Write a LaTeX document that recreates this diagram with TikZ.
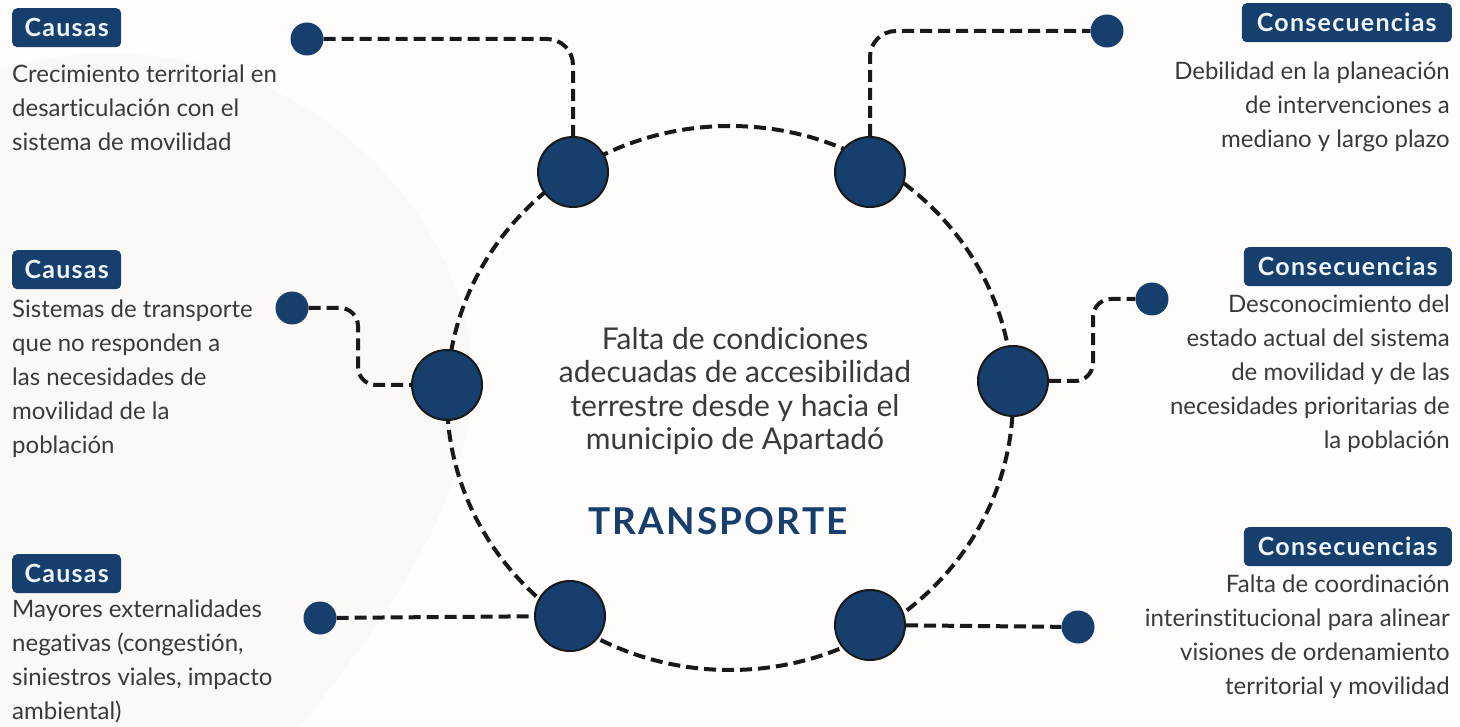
\documentclass[tikz,border=0pt]{standalone}
\usepackage{fontspec}
\setmainfont{Lato}[Ligatures=NoCommon]
\newfontfamily\badgefont{Lato}[Ligatures=NoCommon, LetterSpace=5]
\newfontfamily\titlefont{Lato}[LetterSpace=6]
\definecolor{navy}{HTML}{173F6E}
\definecolor{bgc}{HTML}{FEFDFC}
\definecolor{beige}{HTML}{FBF9F5}
\definecolor{badgetext}{HTML}{EEF5FC}
\definecolor{txt}{HTML}{3A3A3A}
\begin{document}
\begin{tikzpicture}[x=1pt,y=-1pt,
  bigdot/.style={circle, draw=black!90, line width=2pt, fill=navy, minimum size=70pt, inner sep=0pt},
  smalldot/.style={circle, fill=navy, minimum size=33pt, inner sep=0pt},
  link/.style={line width=4pt, dash pattern=on 12pt off 6pt, draw=black!90},
  badge/.style={fill=navy, rounded corners=5pt, text=badgetext, font=\badgefont\bfseries\fontsize{25}{28}\selectfont, inner sep=0pt, minimum height=39pt},
  bodyl/.style={font=\fontsize{24}{34}\selectfont, text=txt, align=left, anchor=north west, inner sep=0pt},
  bodyr/.style={font=\fontsize{24}{34}\selectfont, text=txt, align=right, anchor=north east, inner sep=0pt},
  centertext/.style={font=\fontsize{30}{33.5}\selectfont, text=txt, align=center, anchor=north, inner sep=0pt},
  title/.style={font=\titlefont\bfseries\fontsize{37}{40}\selectfont, text=navy, inner sep=0pt}
]
\useasboundingbox (0,0) rectangle (1460,727);
\fill[bgc] (0,0) rectangle (1460,727);
\fill[beige] (0,70) .. controls (200,10) and (400,120) .. (460,300) .. controls (510,450) and (400,600) .. (300,727) -- (0,727) -- cycle;

% main dashed ring
\draw[link] (730,398) ellipse [x radius=283, y radius=272];

% big dots
\node[bigdot] (n1) at (573,172) {};
\node[bigdot] (n2) at (870,172) {};
\node[bigdot] (n3) at (447,385) {};
\node[bigdot] (n4) at (1013,381) {};
\node[bigdot] (n5) at (570,616) {};
\node[bigdot] (n6) at (870,625) {};

% small dots
\node[smalldot] (s1) at (307,39) {};
\node[smalldot] (s2) at (1107,31) {};
\node[smalldot] (s3) at (292,308) {};
\node[smalldot] (s4) at (1152,299) {};
\node[smalldot] (s5) at (320,618) {};
\node[smalldot] (s6) at (1078,627) {};

% connectors
\draw[link, rounded corners=26pt] (s1) -- (n1 |- s1) -- (n1);
\draw[link, rounded corners=26pt] (n2) -- (n2 |- s2) -- (s2);
\draw[link, rounded corners=18pt] (s3) -- (358,308) -- (358,385) -- (n3);
\draw[link, rounded corners=18pt] (n4) -- (1093,381) -- (1093,299) -- (s4);
\draw[link] (s5) -- (n5);
\draw[link] (n6) -- (s6);

% badges
\node[badge, anchor=north west, minimum width=109pt] (b1) at (12,8) {Causas};
\node[badge, anchor=north west, minimum width=109pt] (b2) at (12,250) {Causas};
\node[badge, anchor=north west, minimum width=109pt] (b3) at (12,554) {Causas};
\node[badge, anchor=north east, minimum width=210pt] (b4) at (1452,3) {Consecuencias};
\node[badge, anchor=north east, minimum width=208pt] (b5) at (1452,247) {Consecuencias};
\node[badge, anchor=north east, minimum width=208pt] (b6) at (1452,527) {Consecuencias};

% body texts
\node[bodyl] (t1) at (12,65) {Crecimiento territorial en\\desarticulación con el\\sistema de movilidad};
\node[bodyl] (t2) at (12,300) {Sistemas de transporte\\que no responden a\\las necesidades de\\movilidad de la\\población};
\node[bodyl] (t3) at (12,600) {Mayores externalidades\\negativas (congestión,\\siniestros viales, impacto\\ambiental)};
\node[bodyr] (t4) at (1450,62) {Debilidad en la planeación\\de intervenciones a\\mediano y largo plazo};
\node[bodyr] (t5) at (1450,295) {Desconocimiento del\\estado actual del sistema\\de movilidad y de las\\necesidades prioritarias de\\la población};
\node[bodyr] (t6) at (1450,575) {Falta de coordinación\\interinstitucional para alinear\\visiones de ordenamiento\\territorial y movilidad};

% center
\node[centertext] (c) at (735,327) {Falta de condiciones\\adecuadas de accesibilidad\\terrestre desde y hacia el\\municipio de Apartadó};
\node[title] (tt) at (718,521) {TRANSPORTE};
\end{tikzpicture}
\end{document}
